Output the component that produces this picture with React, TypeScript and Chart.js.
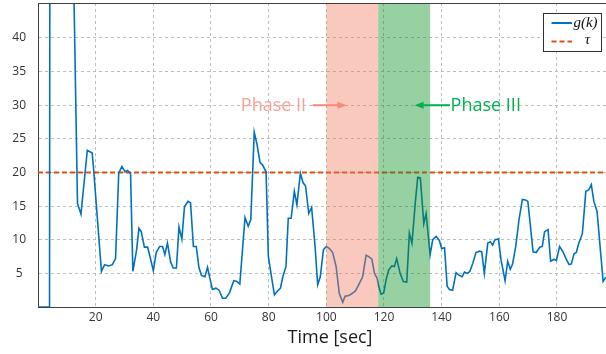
import React, { useEffect, useRef } from 'react';
import { Chart, registerables } from 'chart.js';

Chart.register(...registerables);

// ---- data ----
const timeSec = [
  0, 4, 5, 12, 13.7, 14.9, 17.1, 18.8, 19.3, 22.0,
  23.1, 24.5, 25.8, 26.9, 28.0, 29.1, 30.2, 31.1, 32.1, 32.9,
  34.2, 35.0, 35.8, 36.9, 38.0, 38.9, 40.0, 41.0, 42.2, 43.2,
  44.0, 44.9, 46.0, 46.9, 48.0, 48.9, 49.9, 50.8, 52.0, 52.9,
  53.9, 54.9, 55.8, 56.7, 57.9, 58.8, 59.6, 60.5, 61.7, 62.8,
  64.0, 65.1, 66.4, 67.9, 69.0, 70.0, 71.8, 72.9, 73.8, 75.0,
  76.0, 77.0, 77.9, 79.1, 79.9, 80.8, 82.0, 82.9, 84.1, 84.9,
  86.0, 86.8, 87.8, 88.9, 89.8, 91.0, 91.9, 92.8, 93.9, 94.9,
  96.1, 97.0, 97.9, 99.0, 100.0, 101.1, 102.2, 103.4, 104.5, 105.7,
  106.5, 107.8, 108.9, 110.1, 111.2, 112.6, 113.8, 114.7, 115.8, 116.7,
  117.6, 118.2, 119.0, 119.9, 120.7, 121.6, 122.7, 123.6, 124.4, 125.6,
  126.7, 127.9, 128.8, 129.7, 130.9, 131.7, 132.6, 133.8, 134.6, 136.0,
  136.9, 138.1, 139.2, 140.0, 141.0, 141.9, 142.7, 143.8, 145.0, 146.1,
  147.1, 147.9, 149.0, 149.8, 150.8, 151.9, 153.1, 153.9, 154.8, 156.0,
  156.9, 157.7, 158.5, 159.7, 160.6, 162.0, 162.9, 163.8, 164.6, 165.7,
  166.8, 168.0, 169.1, 169.9, 170.8, 171.7, 172.8, 174.0, 174.9, 175.7,
  176.9, 177.8, 179.0, 179.8, 180.9, 182.1, 183.2, 184.2, 185.0, 185.9,
  186.7, 187.5, 188.8, 190.0, 191.0, 191.9, 192.8, 193.9, 196.0, 196.9,
];

const gValues = [
  0, 0, 480, 58, 15.4, 13.8, 23.3, 22.9, 20.4, 5.3,
  6.3, 6.1, 6.3, 7.2, 19.9, 20.9, 20.1, 20.3, 19.8, 5.3,
  8.5, 11.7, 11.2, 8.9, 8.9, 7.4, 5.4, 8.1, 9.0, 9.0,
  7.8, 9.5, 6.7, 5.8, 5.8, 11.9, 10.1, 14.9, 15.7, 15.5,
  9.0, 9.0, 5.9, 4.7, 4.5, 5.9, 4.3, 2.6, 2.8, 2.5,
  1.3, 1.3, 2.1, 3.9, 3.8, 3.4, 13.3, 12.0, 13.0, 26.0,
  24.1, 21.5, 21.1, 20.1, 7.5, 5.0, 1.8, 2.3, 2.8, 4.5,
  6.0, 13.2, 13.2, 17.2, 15.2, 19.9, 18.5, 18.0, 13.9, 14.8,
  9.0, 3.3, 4.5, 8.5, 9.0, 8.7, 8.1, 6.0, 2.0, 0.7,
  1.6, 1.7, 2.0, 2.4, 3.3, 4.5, 7.7, 7.5, 7.1, 5.0,
  4.3, 3.0, 1.9, 2.1, 4.0, 5.5, 6.1, 6.0, 7.2, 5.0,
  3.8, 3.7, 11.0, 9.5, 15.7, 19.3, 19.2, 12.4, 13.9, 7.8,
  10.0, 10.5, 9.9, 8.7, 8.8, 3.1, 2.6, 2.5, 5.1, 4.7,
  4.5, 5.2, 5.0, 5.3, 6.5, 8.1, 8.3, 8.2, 5.0, 9.5,
  9.7, 9.2, 10.0, 10.1, 7.0, 3.9, 6.8, 5.6, 6.4, 9.0,
  12.9, 16.0, 15.9, 15.7, 12.0, 8.2, 8.1, 8.9, 9.0, 11.2,
  11.5, 6.8, 7.1, 6.9, 9.0, 8.2, 7.1, 6.3, 6.4, 7.9,
  8.1, 9.4, 10.9, 17.2, 17.4, 18.2, 15.7, 14.2, 3.8, 4.4,
];

const tauValue = 20;
const xRange = [0, 197];
const yRange = [0, 45.2];
const xTickValues = [20, 40, 60, 80, 100, 120, 140, 160, 180];
const yTickValues = [5, 10, 15, 20, 25, 30, 35, 40];
const phaseIIRange = [100, 118];
const phaseIIIRange = [118, 136];
const phaseLabels = ['Phase II', 'Phase III'];
const legendLabels = ['g(k)', 'τ'];
const xAxisTitle = 'Time [sec]';

const BLUE = '#0072bd';
const ORANGE = '#d95319';

const overlayPlugin = {
  id: 'overlay',
  afterDatasetsDraw(chart: any) {
    const { ctx, chartArea, scales } = chart;
    const { top, bottom, left, right } = chartArea;
    const x = scales.x;
    const y = scales.y;
    ctx.save();

    // phase shading (semi-transparent, over the lines)
    const p2a = x.getPixelForValue(phaseIIRange[0]);
    const p2b = x.getPixelForValue(phaseIIRange[1]);
    const p3a = x.getPixelForValue(phaseIIIRange[0]);
    const p3b = x.getPixelForValue(phaseIIIRange[1]);
    ctx.fillStyle = 'rgba(240,120,90,0.4)';
    ctx.fillRect(p2a, top, p2b - p2a, bottom - top);
    ctx.fillStyle = 'rgba(10,145,30,0.42)';
    ctx.fillRect(p3a, top, p3b - p3a, bottom - top);

    // top border
    ctx.strokeStyle = '#404040';
    ctx.lineWidth = 1;
    ctx.setLineDash([]);
    ctx.beginPath();
    ctx.moveTo(left, Math.round(top) + 0.5);
    ctx.lineTo(right, Math.round(top) + 0.5);
    ctx.stroke();

    // annotations
    const ay = y.getPixelForValue(30);
    const arrow = (x0: number, x1: number, color: string) => {
      const dir = x1 > x0 ? 1 : -1;
      ctx.strokeStyle = color;
      ctx.fillStyle = color;
      ctx.lineWidth = 2;
      ctx.beginPath();
      ctx.moveTo(x0, ay);
      ctx.lineTo(x1 - dir * 6, ay);
      ctx.stroke();
      ctx.beginPath();
      ctx.moveTo(x1, ay);
      ctx.lineTo(x1 - dir * 9, ay - 3.5);
      ctx.lineTo(x1 - dir * 9, ay + 3.5);
      ctx.closePath();
      ctx.fill();
    };
    ctx.font = '18px "Open Sans"';
    ctx.textBaseline = 'middle';
    ctx.textAlign = 'right';
    ctx.fillStyle = '#f5a194';
    ctx.fillText(phaseLabels[0], x.getPixelForValue(93), ay + 1);
    arrow(x.getPixelForValue(95.2), x.getPixelForValue(107), '#f28b7d');
    ctx.textAlign = 'left';
    ctx.fillStyle = '#00b050';
    ctx.fillText(phaseLabels[1], x.getPixelForValue(143.1), ay + 1);
    arrow(x.getPixelForValue(142.9), x.getPixelForValue(130.6), '#00b050');

    // legend box
    const bw = 58, bh = 38;
    const bx = right - 5.5 - bw;
    const by = top + 9.5;
    ctx.fillStyle = '#ffffff';
    ctx.fillRect(bx, by, bw, bh);
    ctx.strokeStyle = '#303030';
    ctx.lineWidth = 1;
    ctx.strokeRect(Math.round(bx) + 0.5, Math.round(by) + 0.5, bw, bh);
    ctx.lineWidth = 2;
    ctx.strokeStyle = BLUE;
    ctx.beginPath();
    ctx.moveTo(bx + 9, by + 10.5);
    ctx.lineTo(bx + 29.5, by + 10.5);
    ctx.stroke();
    ctx.strokeStyle = ORANGE;
    ctx.setLineDash([5, 3]);
    ctx.beginPath();
    ctx.moveTo(bx + 9, by + 29);
    ctx.lineTo(bx + 29.5, by + 29);
    ctx.stroke();
    ctx.setLineDash([]);
    ctx.fillStyle = '#111';
    ctx.font = 'italic 15px "Liberation Serif"';
    ctx.textAlign = 'center';
    ctx.fillText(legendLabels[0], bx + 43, by + 10.5);
    ctx.fillText(legendLabels[1], bx + 45, by + 28);

    // x axis title
    ctx.font = '18px "Open Sans"';
    ctx.fillStyle = '#1a1a1a';
    ctx.textAlign = 'center';
    ctx.fillText(xAxisTitle, (left + right) / 2 + 8, 338);
    ctx.restore();
  },
};

export default function App() {
  const canvasRef = useRef<HTMLCanvasElement | null>(null);

  useEffect(() => {
    document.body.style.margin = '0';
    const canvas = canvasRef.current;
    if (!canvas) return;
    const seriesG = timeSec.map((t, i) => ({ x: t, y: gValues[i] }));
    const seriesTau = [
      { x: xRange[0], y: tauValue },
      { x: xRange[1], y: tauValue },
    ];
    const tickFont = { family: '"Open Sans"', size: 12 };
    const chart = new Chart(canvas, {
      type: 'line',
      data: {
        datasets: [
          {
            label: legendLabels[0],
            data: seriesG,
            borderColor: BLUE,
            borderWidth: 1.6,
            pointRadius: 0,
            tension: 0,
            fill: false,
          },
          {
            label: legendLabels[1],
            data: seriesTau,
            borderColor: ORANGE,
            borderWidth: 1.8,
            borderDash: [5, 3],
            pointRadius: 0,
            fill: false,
          },
        ],
      },
      options: {
        animation: false,
        responsive: false,
        maintainAspectRatio: false,
        layout: { autoPadding: false, padding: { top: 3, right: 0, left: 0, bottom: 0 } },
        plugins: {
          legend: { display: false },
          tooltip: { enabled: false },
          title: { display: false },
          subtitle: { display: false },
        },
        scales: {
          x: {
            type: 'linear',
            min: xRange[0],
            max: xRange[1],
            afterBuildTicks: (scale: any) => {
              scale.ticks = xTickValues.map((v) => ({ value: v }));
            },
            afterFit: (scale: any) => {
              scale.height = 47;
              scale.paddingLeft = 0;
              scale.paddingRight = 0;
              scale.paddingTop = 0;
              scale.paddingBottom = 0;
            },
            ticks: {
              font: tickFont,
              color: '#333',
              padding: 3,
              maxRotation: 0,
              autoSkip: false,
            },
            grid: { color: '#bdbdbd', lineWidth: 1, drawTicks: false },
            border: { display: true, color: '#404040', width: 1, dash: [3, 3] },
          },
          y: {
            type: 'linear',
            min: yRange[0],
            max: yRange[1],
            afterBuildTicks: (scale: any) => {
              scale.ticks = yTickValues.map((v) => ({ value: v }));
            },
            afterFit: (scale: any) => {
              scale.width = 38;
              scale.paddingLeft = 0;
              scale.paddingRight = 0;
              scale.paddingTop = 0;
              scale.paddingBottom = 0;
            },
            ticks: {
              font: tickFont,
              color: '#333',
              padding: 12,
              crossAlign: 'center',
              autoSkip: false,
            },
            grid: { color: '#bdbdbd', lineWidth: 1, drawTicks: false },
            border: { display: true, color: '#404040', width: 1, dash: [3, 3] },
          },
        },
      },
      plugins: [overlayPlugin],
    } as any);
    return () => chart.destroy();
  }, []);

  return (
    <div style={{ width: 606, height: 354 }}>
      <canvas ref={canvasRef} width={606} height={354} style={{ display: 'block' }} />
    </div>
  );
}
